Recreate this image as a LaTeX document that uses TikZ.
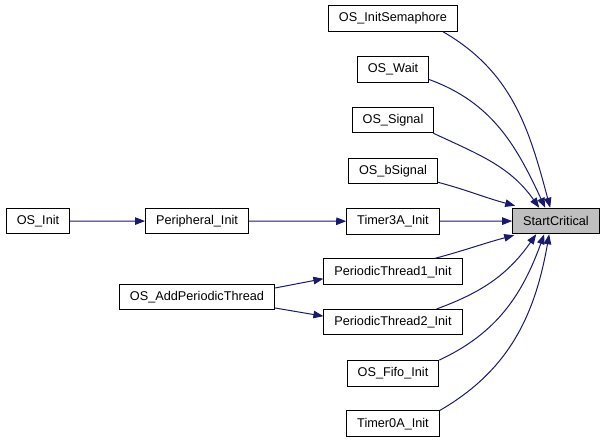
\documentclass[tikz,border=0pt]{standalone}
\usepackage{fontspec}
\setmainfont{Liberation Sans}
\usetikzlibrary{arrows.meta,positioning}
\definecolor{cgEdge}{HTML}{191970}
\definecolor{cgHit}{HTML}{BFBFBF}
\tikzset{
  fnode/.style={
    draw=black, line width=1pt, fill=white, minimum height=25.5pt,
    inner xsep=10.5pt, inner ysep=0pt, font=\fontsize{12.7}{14}\selectfont
  },
  hitnode/.style={fnode, fill=cgHit},
  call/.style={-{Triangle[length=10pt,width=7.5pt]}, line width=1pt, cgEdge}
}

\begin{document}
\begin{tikzpicture}[x=1pt,y=-1pt]
  \useasboundingbox (0,0) rectangle (607,443);
  \node[hitnode] (sc) at (556,221) {StartCritical};
  \node[fnode] (sem) at (393,18.5) {OS\_InitSemaphore};
  \node[fnode] (wait) at (393,69.3) {OS\_Wait};
  \node[fnode] (sig) at (393,120) {OS\_Signal};
  \node[fnode] (bsig) at (393,171) {OS\_bSignal};
  \node[fnode] (t3a) at (393,221.3) {Timer3A\_Init};
  \node[fnode] (pt1) at (393,271.7) {PeriodicThread1\_Init};
  \node[fnode] (pt2) at (393,322.2) {PeriodicThread2\_Init};
  \node[fnode] (fifo) at (393,373.3) {OS\_Fifo\_Init};
  \node[fnode] (t0a) at (393,423.7) {Timer0A\_Init};
  \node[fnode] (osinit) at (38,221.2) {OS\_Init};
  \node[fnode] (peri) at (197,221) {Peripheral\_Init};
  \node[fnode] (apt) at (197,297) {OS\_AddPeriodicThread};
  \foreach \s/\e in {osinit/peri, peri/t3a, t3a/sc}{\draw[call] (\s) -- (\e);}
  \draw[call] ([yshift=9pt]apt.east) -- ([yshift=-7pt]pt1.west);
  \draw[call] ([yshift=-11pt]apt.east) -- ([yshift=6pt]pt2.west);
  % callers above
  \draw[call] ([xshift=-15pt]sem.south east) to[out=-30,in=105] ([xshift=38pt]sc.north west);
  \draw[call] ([yshift=3pt]wait.south east) to[out=-20,in=115] ([xshift=33pt]sc.north west);
  \draw[call] ([xshift=-1pt]sig.south east) to[out=-25,in=125] ([xshift=27pt]sc.north west);
  \draw[call] ([yshift=2pt]bsig.south east) to[out=-15,in=165] ([xshift=3pt,yshift=2pt]sc.north west);
  % callers below
  \draw[call] ([xshift=-28pt]pt1.north east) to[out=15,in=195] ([xshift=2pt,yshift=-1pt]sc.south west);
  \draw[call] ([xshift=-26pt]pt2.north east) to[out=20,in=-125] ([xshift=24pt]sc.south west);
  \draw[call] (fifo.north east) to[out=25,in=-110] ([xshift=32pt]sc.south west);
  \draw[call] (t0a.north east) to[out=30,in=-100] ([xshift=37pt]sc.south west);
\end{tikzpicture}
\end{document}
